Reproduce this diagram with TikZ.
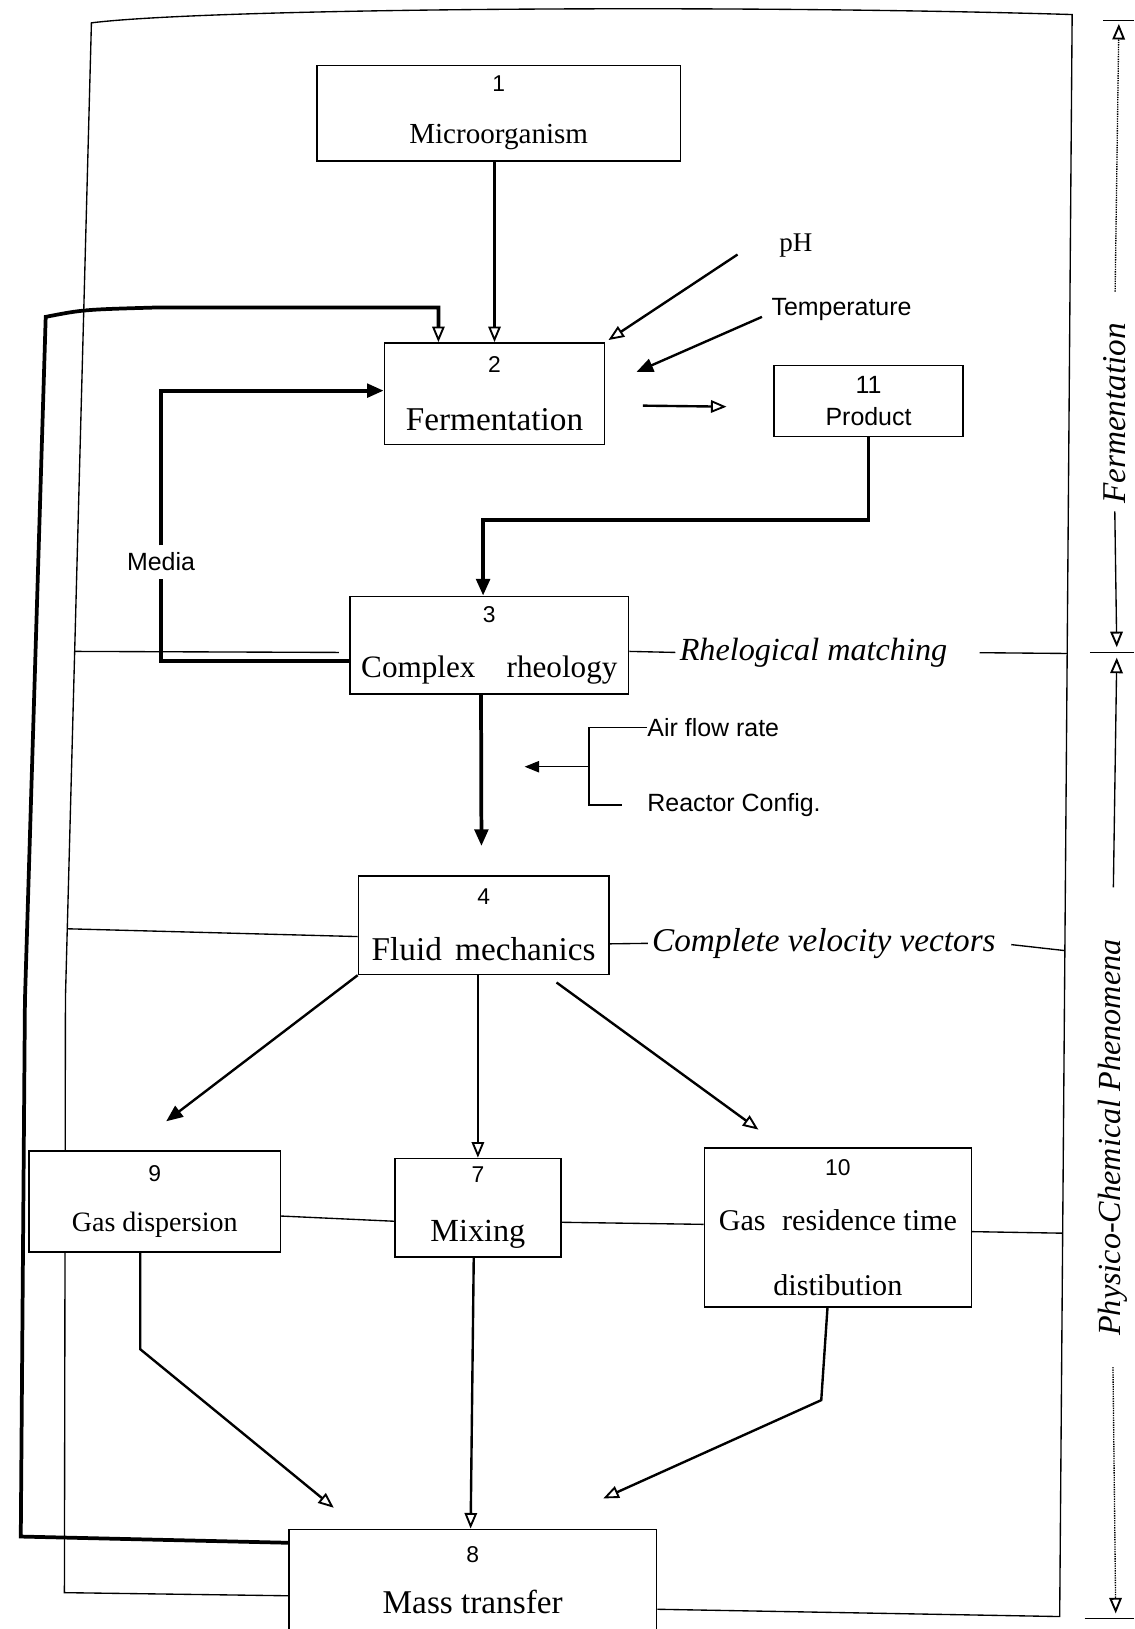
\documentclass[tikz,border=0pt]{standalone}
\usepackage{fontspec}
\setmainfont{Liberation Serif}
\setsansfont{Liberation Sans}
\usetikzlibrary{arrows.meta, backgrounds}

\newcommand{\boxnr}[1]{{\sffamily\fontsize{22}{22}\selectfont #1}}

\begin{document}
\begin{tikzpicture}[x=1pt, y=-1pt,
			thinline/.style={line width=1.3pt},
			midline/.style={line width=2.3pt},
			thickline/.style={line width=3.6pt},
			fullhead/.style={-{Triangle[length=16pt, width=13pt]}},
			openhead/.style={-{Triangle[open, length=15pt, width=12pt, line width=1.8pt]}},
			blk/.style={draw, line width=1.4pt, fill=white, inner sep=0pt, align=center},
			lbl/.style={inner sep=2pt, font=\sffamily\fontsize{24}{24}\selectfont},
			note/.style={inner sep=4pt, font=\itshape\fontsize{31}{31}\selectfont},
			side/.style={inner sep=4pt, rotate=90, font=\itshape\fontsize{32}{32}\selectfont}
			]
			
			\useasboundingbox (0,0) rectangle (1092,1568);
			\begin{scope}[on background layer]
				\fill[white] (0,0) rectangle (1092,1568);
			\end{scope}
			
			% Blokken
			\node (Micro) [blk, minimum width=350pt, minimum height=92pt, font=\fontsize{28}{30}\selectfont] at (480,109) {\boxnr{1}\\[20pt]Microorganism};
			\node (Ferm) [blk, minimum width=212pt, minimum height=98pt, font=\fontsize{32}{30}\selectfont] at (476,379) {\boxnr{2}\\[26pt]Fermentation};
			\node (Product) [blk, minimum width=182pt, minimum height=68pt, font=\sffamily\fontsize{24}{24}\selectfont] at (836,386) {11\\[7pt]Product};
			\node (Rheo) [blk, minimum width=268pt, minimum height=94pt, font=\fontsize{30}{30}\selectfont] at (471,621) {\boxnr{3}\\[23pt]Complex\quad rheology};
			\node (Fluid) [blk, minimum width=241pt, minimum height=95pt, font=\fontsize{32}{30}\selectfont] at (465.5,890.5) {\boxnr{4}\\[24pt]Fluid\hspace{0.4em}mechanics};
			\node (GasDisp) [blk, minimum width=242pt, minimum height=97pt, font=\fontsize{27}{30}\selectfont] at (149,1156.5) {\boxnr{9}\\[18pt]Gas dispersion};
			\node (Mixing) [blk, minimum width=160pt, minimum height=95pt, font=\fontsize{31}{30}\selectfont] at (460,1162.5) {\boxnr{7}\\[27pt]Mixing};
			\node (GasRes) [blk, minimum width=257pt, minimum height=153pt, font=\fontsize{29}{30}\selectfont] at (806.5,1181.5) {\boxnr{10}\\[23pt]Gas\hspace{0.55em}residence time\\[32pt]distibution\hspace{14pt}};
			\node (Mass) [blk, minimum width=354pt, minimum height=98pt, font=\fontsize{32}{30}\selectfont] at (455,1521) {\boxnr{8}\\[20pt]Mass transfer};
			
			% Losse teksten
			\node (pH) [inner sep=2pt, font=\fontsize{26}{26}\selectfont] at (766,236) {pH};
			\node (Temp) [lbl] at (810,298) {Temperature};
			\node (Media) [lbl, inner ysep=7pt] at (155,541) {Media};
			\node (Air) [lbl, inner sep=0pt, anchor=west] at (623,700) {Air flow rate};
			\node (Reactor) [lbl, inner sep=0pt, anchor=west] at (623,775) {Reactor Config.};
			\node (Rhel) [note] at (783,628) {Rhelogical matching};
			\node (Velo) [note, font=\itshape\fontsize{32}{32}\selectfont] at (793,908) {Complete velocity vectors};
			\node (FermSide) [side] at (1073,398) {Fermentation};
			\node (PhysSide) [side, font=\itshape\fontsize{31}{31}\selectfont] at (1071,1095) {Physico-Chemical Phenomena};
			
			% Hulppunten
			\coordinate (FrameTL) at (88,22);
			\coordinate (FrameML) at (63,960);
			\coordinate (FrameBL) at (62,1533);
			\coordinate (FrameTR) at (1032,14);
			\coordinate (FrameBR) at (1020,1556);
			\coordinate (LRheo) at (72,627);
			\coordinate (LFluid) at (65,894);
			\coordinate (RRheo) at (1027,629);
			\coordinate (RFluid) at (1025,915);
			\coordinate (RGasRes) at (1023,1187);
			\coordinate (LoopTL) at (44,305);
			\coordinate (LoopML) at (24,963);
			\coordinate (LoopBL) at (20,1479);
			\coordinate (Brace) at (567,738);
			\coordinate (AirTip) at (505,738);
			\coordinate (TickTop) at (1077,20);
			\coordinate (TickMid) at (1075,628);
			\coordinate (TickBot) at (1074,1558);
			
			% Kader en terugkoppeling (achter de blokken)
			\begin{scope}[on background layer]
				\draw[thinline] ([yshift=-15pt]Mass.west) -- (FrameBL) -- (FrameML) -- (FrameTL)
					.. controls (200,8) and (700,4) .. (FrameTR) -- (FrameBR) -- ([yshift=-28pt]Mass.east);
				\draw[thickline, openhead] ([yshift=36pt]Mass.west) -- (LoopBL) -- (LoopML) -- (LoopTL)
					.. controls (80,298) .. (150,296) -| ([xshift=-54pt]Ferm.north);
			\end{scope}
			
			% Dwarsverbindingen
			\draw[thinline] ([xshift=-10pt, yshift=-7pt]Rheo.west) -- (LRheo);
			\draw[thinline] ([yshift=-6pt]Rheo.east) -- (Rhel.west);
			\draw[thinline, shorten <=27pt] (Rhel.east) -- (RRheo);
			\draw[thinline] ([yshift=-11pt]Fluid.west) -- (LFluid);
			\draw[thinline] ([yshift=-18pt]Fluid.east) -- (Velo.west);
			\draw[thinline, shorten <=11pt] (Velo.east) -- (RFluid);
			\draw[thinline] ([yshift=-14pt]GasDisp.east) -- ([yshift=-13pt]Mixing.west);
			\draw[thinline] ([yshift=-14pt]Mixing.east) -- ([yshift=3pt]GasRes.west);
			\draw[thinline] ([yshift=-4pt]GasRes.east) -- (RGasRes);
			
			% Fermentatie
			\draw[midline, openhead] (Micro.south -| Ferm.north) -- (Ferm.north);
			\draw[midline, openhead] ([xshift=-38pt, yshift=-9pt]pH.west) -- ([xshift=3pt, yshift=2pt]Ferm.north east);
			\draw[midline, fullhead] ([xshift=-7pt, yshift=-7pt]Temp.west) -- ([xshift=30pt, yshift=21pt]Ferm.east);
			\draw[midline, openhead, shorten <=36pt, shorten >=45pt] ([yshift=-11pt]Ferm.east) -- ([yshift=-6pt]Product.west);
			\draw[thickline] ([yshift=-15pt]Rheo.west) -| (Media.south);
			\draw[thickline, fullhead] (Media.north) |- ([yshift=3pt]Ferm.west);
			\draw[thickline, fullhead] (Product.south) -- ++(0,80) -| ([xshift=-6pt]Rheo.north);
			
			% Reologie naar stroming
			\draw[thickline, fullhead, shorten >=28pt] ([xshift=-8pt]Rheo.south) -- ([xshift=-2pt]Fluid.north);
			\draw[thinline] (Air.west) -| (Brace) |- ([xshift=-24pt]Reactor.west);
			\draw[thinline, -{Triangle[length=14pt, width=11pt]}] (Brace) -- (AirTip);
			
			% Stroming naar de verschijnselen
			\draw[midline, fullhead] (Fluid.south west) -- ([xshift=11pt, yshift=28pt]GasDisp.north);
			\draw[midline, openhead] ([xshift=-5.5pt]Fluid.south) -- (Mixing.north);
			\draw[midline, openhead] ([xshift=-51pt, yshift=-7pt]Fluid.south east) -- ([xshift=-76.5pt, yshift=17pt]GasRes.north);
			
			% Naar stofoverdracht
			\draw[midline, openhead] ([xshift=-14pt]GasDisp.south) -- ++(0,93) -- ([xshift=44pt, yshift=20pt]Mass.north west);
			\draw[midline, openhead] ([xshift=-4pt]Mixing.south) -- ([xshift=-2pt]Mass.north);
			\draw[midline, openhead] ([xshift=-10pt]GasRes.south) -- ++(-6,89) -- ([xshift=-52pt, yshift=29pt]Mass.north east);
			
			% Zijbalk met gebieden
			\draw[thinline] ([xshift=-15pt]TickTop) -- ([xshift=15pt]TickTop);
			\draw[thinline] ([xshift=-26pt]TickMid) -- ([xshift=17pt]TickMid);
			\draw[thinline] ([xshift=-30pt]TickBot) -- ([xshift=18pt]TickBot);
			\draw[thinline, densely dotted, openhead, shorten <=26pt, shorten >=3pt] (FermSide.east) -- (TickTop);
			\draw[thinline, openhead, shorten <=3pt, shorten >=5pt] (FermSide.west) -- (TickMid);
			\draw[thinline, openhead, shorten <=46pt, shorten >=5pt] (PhysSide.east) -- (TickMid);
			\draw[thinline, densely dotted, openhead, shorten <=26pt, shorten >=5pt] (PhysSide.west) -- (TickBot);
			
		\end{tikzpicture}
\end{document}
